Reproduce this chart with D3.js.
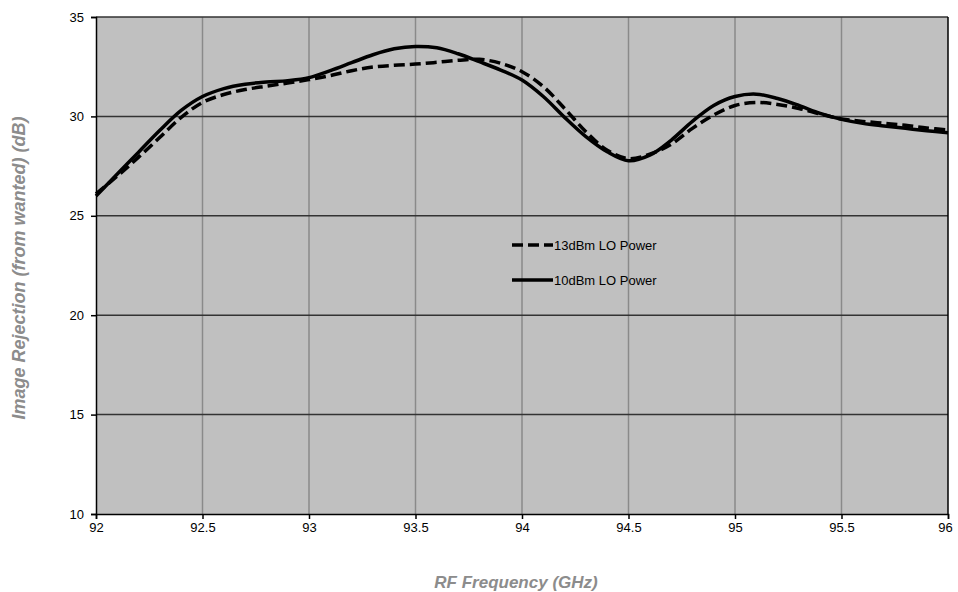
<!DOCTYPE html>
<html>
<head>
<meta charset="utf-8">
<style>
body { margin: 0; background: #fff; }
text { font-family: "Liberation Sans", Arial, sans-serif; }
.tick text { font-size: 13px; fill: #000; }
.axis-title { font-weight: bold; font-style: italic; fill: #8c8c8c; }
.legend text { font-size: 13px; fill: #000; }
</style>
</head>
<body>
<script src="https://cdn.jsdelivr.net/npm/d3@7"></script>
<script>

// frequency points (GHz)
var freq = [92.0, 92.1, 92.2, 92.3, 92.4, 92.5, 92.6, 92.7, 92.8, 92.9,
            93.0, 93.1, 93.2, 93.3, 93.4, 93.5, 93.6, 93.7, 93.8, 93.9,
            94.0, 94.1, 94.2, 94.3, 94.4, 94.5, 94.6, 94.7, 94.8, 94.9,
            95.0, 95.1, 95.2, 95.3, 95.4, 95.5, 95.6, 95.7, 95.8, 95.9, 96.0];

// 13dBm LO power (dashed)
var lo13 = [26.1, 27.0, 27.95, 28.95, 29.95, 30.7, 31.1, 31.35, 31.52, 31.68,
            31.85, 32.05, 32.3, 32.48, 32.57, 32.63, 32.72, 32.82, 32.87, 32.67,
            32.25, 31.5, 30.4, 29.23, 28.3, 27.88, 28.1, 28.6, 29.4, 30.07,
            30.55, 30.7, 30.6, 30.4, 30.12, 29.87, 29.75, 29.65, 29.55, 29.42, 29.32];

// 10dBm LO power (solid)
var lo10 = [26.0, 27.1, 28.2, 29.3, 30.3, 31.0, 31.4, 31.62, 31.73, 31.8,
            31.95, 32.3, 32.7, 33.1, 33.4, 33.52, 33.45, 33.15, 32.75, 32.33,
            31.83, 31.0, 29.95, 28.98, 28.22, 27.77, 28.05, 28.8, 29.75, 30.55,
            31.0, 31.12, 30.9, 30.55, 30.15, 29.85, 29.65, 29.52, 29.4, 29.28, 29.18];

var xTicks = [92, 92.5, 93, 93.5, 94, 94.5, 95, 95.5, 96];
var yTicks = [10, 15, 20, 25, 30, 35];

var width = 958, height = 592;
var margin = {left: 96, right: 10, top: 17, bottom: 78};

var svg = d3.select("body").append("svg")
    .attr("width", width)
    .attr("height", height);

var x = d3.scaleLinear().domain([92, 96]).range([margin.left, width - margin.right]);
var y = d3.scaleLinear().domain([10, 35]).range([height - margin.bottom, margin.top]);

// plot background
svg.append("rect")
    .attr("x", x(92))
    .attr("y", y(35))
    .attr("width", x(96) - x(92))
    .attr("height", y(10) - y(35))
    .attr("fill", "#c0c0c0");

// vertical grid (gray)
svg.append("g").selectAll("line")
    .data(xTicks.slice(1, -1))
    .enter().append("line")
    .attr("x1", function(d) { return x(d); })
    .attr("x2", function(d) { return x(d); })
    .attr("y1", y(10))
    .attr("y2", y(35))
    .attr("stroke", "#8a8a8a")
    .attr("stroke-width", 1.5);

// horizontal grid (dark)
svg.append("g").selectAll("line")
    .data(yTicks.slice(1))
    .enter().append("line")
    .attr("x1", x(92))
    .attr("x2", x(96))
    .attr("y1", function(d) { return y(d); })
    .attr("y2", function(d) { return y(d); })
    .attr("stroke", "#333")
    .attr("stroke-width", 1.5);

// right border
svg.append("line")
    .attr("x1", x(96)).attr("x2", x(96))
    .attr("y1", y(10)).attr("y2", y(35))
    .attr("stroke", "#000").attr("stroke-width", 1.5);

// axes
var xAxis = svg.append("g")
    .attr("transform", "translate(0," + y(10) + ")")
    .call(d3.axisBottom(x).tickValues(xTicks).tickSize(5).tickPadding(4)
        .tickFormat(d3.format("")));
var yAxis = svg.append("g")
    .attr("transform", "translate(" + x(92) + ",0)")
    .call(d3.axisLeft(y).tickValues(yTicks).tickSize(5).tickPadding(7));

[xAxis, yAxis].forEach(function(a) {
  a.select(".domain").attr("stroke", "#000").attr("stroke-width", 1.5);
  a.selectAll(".tick line").attr("stroke", "#000").attr("stroke-width", 1.5);
  a.selectAll(".tick text").attr("font-family", null).attr("font-size", null);
});
xAxis.selectAll(".tick").filter(function(d) { return d === 96; }).select("text").attr("dx", -3);

// lines
var line = d3.line()
    .x(function(d) { return x(d[0]); })
    .y(function(d) { return y(d[1]); })
    .curve(d3.curveCatmullRom.alpha(0.5));

svg.append("path")
    .datum(d3.zip(freq, lo13))
    .attr("d", line)
    .attr("fill", "none")
    .attr("stroke", "#000")
    .attr("stroke-width", 3.5)
    .attr("stroke-dasharray", "11,5");

svg.append("path")
    .datum(d3.zip(freq, lo10))
    .attr("d", line)
    .attr("fill", "none")
    .attr("stroke", "#000")
    .attr("stroke-width", 3.5);

// legend
var legend = svg.append("g").attr("class", "legend");
var items = [{name: "13dBm LO Power", dash: "11,5"}, {name: "10dBm LO Power", dash: null}];
items.forEach(function(it, i) {
  var ly = 245 + i * 35;
  legend.append("line")
      .attr("x1", 512).attr("x2", 553)
      .attr("y1", ly).attr("y2", ly)
      .attr("stroke", "#000")
      .attr("stroke-width", 3.5)
      .attr("stroke-dasharray", it.dash);
  legend.append("text")
      .attr("x", 554)
      .attr("y", ly)
      .attr("dy", "0.35em")
      .text(it.name);
});

// axis titles
svg.append("text")
    .attr("class", "axis-title")
    .attr("text-anchor", "middle")
    .style("font-size", "18px")
    .attr("transform", "translate(25," + 268 + ") rotate(-90)")
    .text("Image Rejection (from wanted) (dB)");

svg.append("text")
    .attr("class", "axis-title")
    .attr("text-anchor", "middle")
    .style("font-size", "17px")
    .attr("x", 516)
    .attr("y", 588)
    .text("RF Frequency (GHz)");

</script>
</body>
</html>
